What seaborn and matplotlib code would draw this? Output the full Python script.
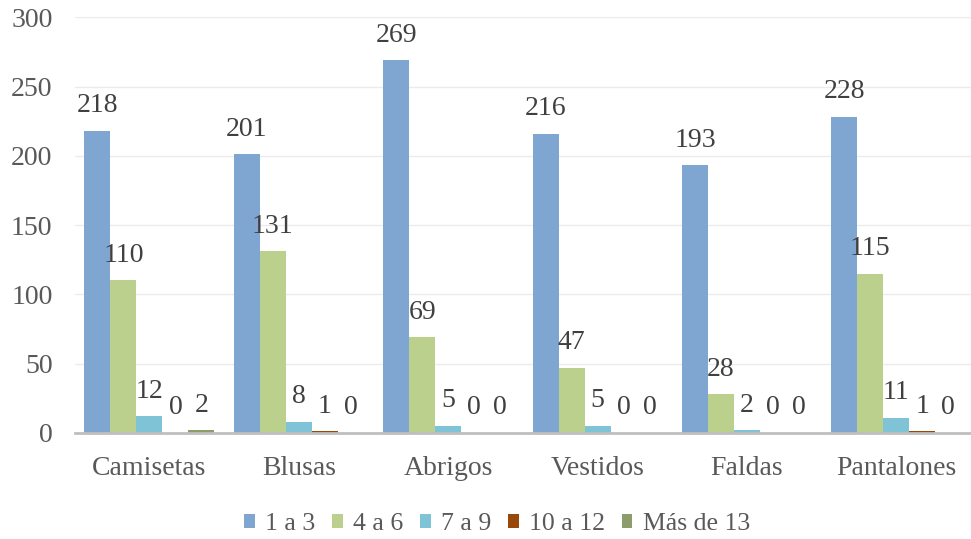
import matplotlib
matplotlib.use("Agg")
import matplotlib.pyplot as plt
import seaborn as sns
import pandas as pd

categories = ["Camisetas", "Blusas", "Abrigos", "Vestidos", "Faldas", "Pantalones"]
series_names = ["1 a 3", "4 a 6", "7 a 9", "10 a 12", "Más de 13"]
v_1a3 = [218, 201, 269, 216, 193, 228]
v_4a6 = [110, 131, 69, 47, 28, 115]
v_7a9 = [12, 8, 5, 5, 2, 11]
v_10a12 = [0, 1, 0, 0, 0, 1]
v_mas13 = [2, 0, 0, 0, 0, 0]
yticks = [0, 50, 100, 150, 200, 250, 300]

colors = ["#7FA6D0", "#BBD08C", "#7EC4D6", "#984807", "#8D9C6B"]

rows = []
for name, vals in zip(series_names, [v_1a3, v_4a6, v_7a9, v_10a12, v_mas13]):
    for c, v in zip(categories, vals):
        rows.append({"Categoria": c, "Serie": name, "Valor": v})
df = pd.DataFrame(rows)

sns.set_theme(style="white")
plt.rcParams["font.family"] = ["Liberation Serif", "DejaVu Serif"]

fig = plt.figure(figsize=(9.71, 5.39), dpi=100)
ax = fig.add_axes([0.077, 0.197, 0.923, 0.771])

sns.barplot(data=df, x="Categoria", y="Valor", hue="Serie", order=categories,
            hue_order=series_names, palette=colors, width=0.87, gap=0,
            saturation=1, ax=ax, errorbar=None, legend=True, linewidth=0)

for cont in ax.containers:
    ax.bar_label(cont, fmt="%d", padding=9, fontsize=20, color="#404040")

ax.set_ylim(0, 300)
ax.set_xlim(-0.5, 5.5)
ax.set_yticks(yticks)
ax.set_yticklabels([str(t) for t in yticks])
ax.yaxis.grid(True, color="#EBEBEB", linewidth=1)
ax.set_axisbelow(True)
ax.set_xlabel("")
ax.set_ylabel("")
for s in ["left", "right", "top"]:
    ax.spines[s].set_visible(False)
ax.spines["bottom"].set_color("#BFBFBF")
ax.spines["bottom"].set_linewidth(2)
ax.tick_params(axis="both", length=0, labelsize=20, labelcolor="#595959")
ax.tick_params(axis="x", pad=17)
ax.tick_params(axis="y", pad=16)

ax.legend(loc="upper center", bbox_to_anchor=(0.471, -0.15), ncol=5, frameon=False,
          fontsize=18.5, handlelength=0.42, handleheight=0.42, handletextpad=0.4,
          columnspacing=0.65, labelcolor="#595959", borderpad=0.2)

fig.savefig("out.png", dpi=100)
